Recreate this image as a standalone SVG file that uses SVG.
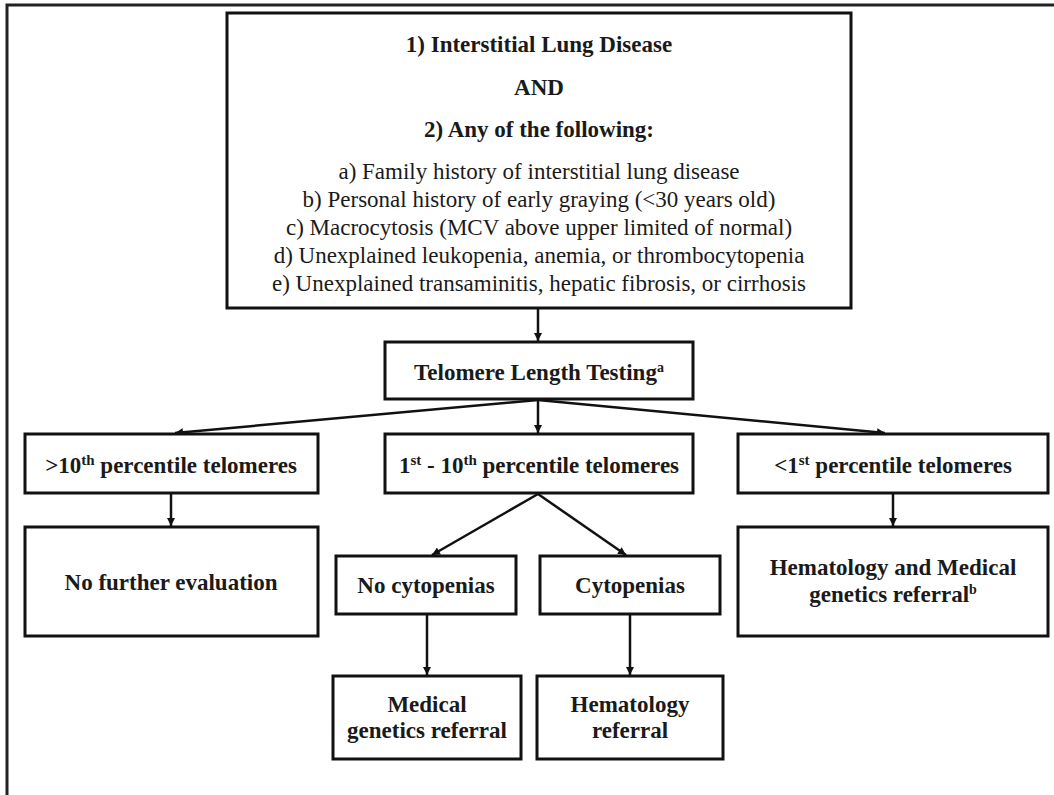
<svg xmlns="http://www.w3.org/2000/svg" width="1054" height="795" viewBox="0 0 1054 795">
<defs>
<style>
.box{fill:#fff;stroke:#111;stroke-width:3}
.b{font-family:"Liberation Serif","Times New Roman",serif;font-weight:bold;font-size:23px;fill:#1a1a1a;text-anchor:middle}
.r{font-family:"Liberation Serif","Times New Roman",serif;font-size:23px;fill:#1a1a1a;text-anchor:middle}
.c{stroke:#111;stroke-width:2.5;fill:none;marker-end:url(#ah)}
</style>
<marker id="ah" viewBox="0 0 10 10" refX="10" refY="5" markerWidth="9" markerHeight="8" markerUnits="userSpaceOnUse" orient="auto">
<path d="M0,0 L10,5 L0,10 z" fill="#111"/>
</marker>
</defs>
<rect x="0" y="0" width="1054" height="795" fill="#fff"/>
<rect x="7" y="5" width="1100" height="900" fill="none" stroke="#222" stroke-width="3"/>

<g id="connectors">
<line class="c" x1="538" y1="309" x2="538" y2="341"/>
<line class="c" x1="538" y1="400" x2="175" y2="433"/>
<line class="c" x1="538" y1="400" x2="538" y2="433"/>
<line class="c" x1="538" y1="400" x2="885" y2="433"/>
<line class="c" x1="171" y1="494" x2="171" y2="526"/>
<line class="c" x1="893" y1="494" x2="893" y2="526"/>
<line class="c" x1="538" y1="494" x2="432" y2="555"/>
<line class="c" x1="538" y1="494" x2="626" y2="555"/>
<line class="c" x1="427" y1="615" x2="427" y2="675"/>
<line class="c" x1="630" y1="615" x2="630" y2="675"/>
</g>

<g id="criteria">
<rect class="box" x="227" y="13" width="624" height="295"/>
<text class="b" x="539" y="52">1) Interstitial  Lung Disease</text>
<text class="b" x="539" y="95">AND</text>
<text class="b" x="539" y="137">2) Any of the following:</text>
<text class="r" x="539" y="179">a) Family history of interstitial lung disease</text>
<text class="r" x="539" y="207">b) Personal history of early graying (&lt;30 years old)</text>
<text class="r" x="539" y="235">c) Macrocytosis (MCV above upper limited of normal)</text>
<text class="r" x="539" y="263">d) Unexplained leukopenia, anemia, or thrombocytopenia</text>
<text class="r" x="539" y="291">e) Unexplained transaminitis, hepatic fibrosis, or cirrhosis</text>
</g>

<g id="telomere">
<rect class="box" x="385" y="342" width="308" height="57"/>
<text class="b" x="539" y="380">Telomere Length Testing<tspan font-size="14" dy="-8">a</tspan></text>
</g>

<g id="gt10">
<rect class="box" x="25" y="434" width="293" height="59"/>
<text class="b" x="171" y="473">&gt;10<tspan font-size="15" dy="-8">th</tspan><tspan dy="8"> percentile telomeres</tspan></text>
</g>

<g id="mid">
<rect class="box" x="385" y="434" width="308" height="59"/>
<text class="b" x="539" y="473">1<tspan font-size="15" dy="-8">st</tspan><tspan dy="8"> - 10</tspan><tspan font-size="15" dy="-8">th</tspan><tspan dy="8"> percentile telomeres</tspan></text>
</g>

<g id="lt1">
<rect class="box" x="738" y="434" width="310" height="59"/>
<text class="b" x="893" y="473">&lt;1<tspan font-size="15" dy="-8">st</tspan><tspan dy="8"> percentile telomeres</tspan></text>
</g>

<g id="nofurther">
<rect class="box" x="25" y="527" width="293" height="109"/>
<text class="b" x="171" y="590">No further evaluation</text>
</g>

<g id="hemmed">
<rect class="box" x="738" y="527" width="310" height="109"/>
<text class="b" x="893" y="575">Hematology and Medical</text>
<text class="b" x="893" y="602">genetics referral<tspan font-size="14" dy="-8">b</tspan></text>
</g>

<g id="nocyto">
<rect class="box" x="336" y="556" width="180" height="58"/>
<text class="b" x="426" y="593">No cytopenias</text>
</g>

<g id="cyto">
<rect class="box" x="540" y="556" width="180" height="58"/>
<text class="b" x="630" y="593">Cytopenias</text>
</g>

<g id="medgen">
<rect class="box" x="333" y="676" width="188" height="83"/>
<text class="b" x="427" y="712">Medical</text>
<text class="b" x="427" y="738">genetics referral</text>
</g>

<g id="hemref">
<rect class="box" x="537" y="676" width="186" height="83"/>
<text class="b" x="630" y="712">Hematology</text>
<text class="b" x="630" y="738">referral</text>
</g>
</svg>
